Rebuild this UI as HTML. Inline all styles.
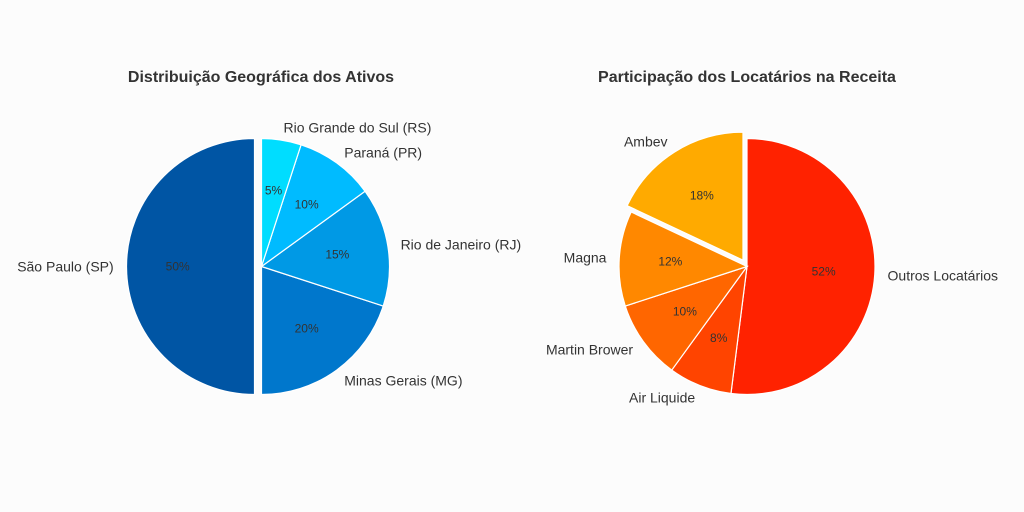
<!DOCTYPE html>
<html><head><meta charset="utf-8"><style>
body{margin:0;background:#fcfcfc;}
svg{display:block;font-family:"Liberation Sans","DejaVu Sans",sans-serif;}
</style></head><body>
<svg id="c" width="1024" height="512" viewBox="0 0 1024 512">
<rect width="1024" height="512" fill="#fcfcfc"/>
<text x="261" y="82" text-anchor="middle" font-size="16" font-weight="bold" fill="#333">Distribuição Geográfica dos Ativos</text>
<text x="747" y="82" text-anchor="middle" font-size="16" font-weight="bold" fill="#333">Participação dos Locatários na Receita</text>
</svg>
<script>
const leftLabels=["São Paulo (SP)","Minas Gerais (MG)","Rio de Janeiro (RJ)","Paraná (PR)","Rio Grande do Sul (RS)"];
const leftValues=[50,20,15,10,5];
const leftColors=["#0055a4","#0077cc","#0099e5","#00bbff","#00ddff"];
const leftExplode=[7,0,0,0,0];
const rightLabels=["Outros Locatários","Air Liquide","Martin Brower","Magna","Ambev"];
const rightValues=[52,8,10,12,18];
const rightColors=["#ff2200","#ff4400","#ff6600","#ff8800","#ffaa00"];
const rightExplode=[0,0,0,0,7.5];
const NS="http://www.w3.org/2000/svg";
const svg=document.getElementById('c');
function mk(t,a){const e=document.createElementNS(NS,t);for(const k in a)e.setAttribute(k,a[k]);svg.appendChild(e);return e;}
function slug(s){return s.toLowerCase().normalize('NFD').replace(/[\u0300-\u036f]/g,'').replace(/[^a-z0-9]+/g,'-').replace(/^-|-$/g,'');}
function pie(cx,cy,r,labels,values,colors,explode,ccw){
  const tot=values.reduce((a,b)=>a+b,0);
  let ang=90;
  values.forEach((v,i)=>{
    const sweep=v/tot*360*(ccw?1:-1);
    const a0=ang,a1=ang+sweep,mid=(a0+a1)/2*Math.PI/180;
    const ox=cx+explode[i]*Math.cos(mid),oy=cy-explode[i]*Math.sin(mid);
    const p=a=>[ox+r*Math.cos(a*Math.PI/180),oy-r*Math.sin(a*Math.PI/180)];
    const [x0,y0]=p(a0),[x1,y1]=p(a1);
    const large=Math.abs(sweep)>180?1:0;
    const s=mk('path',{d:`M${ox},${oy}L${x0},${y0}A${r},${r} 0 ${large} ${ccw?0:1} ${x1},${y1}Z`,fill:colors[i],stroke:'#fff','stroke-width':1.2});
    
    
    const t=mk('text',{x:ox+0.6*r*Math.cos(mid),y:oy-0.6*r*Math.sin(mid)+4,'text-anchor':'middle','font-size':12,fill:'#333'});
    t.textContent=v+'%';
    
    
    const lx=ox+1.1*r*Math.cos(mid),ly=oy-1.1*r*Math.sin(mid);
    const l=mk('text',{x:lx,y:ly+5,'text-anchor':Math.cos(mid)>=0?'start':'end','font-size':14,fill:'#333'});
    l.textContent=labels[i];
    
    
    ang=a1;
  });
}
pie(261.5,266.5,128,leftLabels,leftValues,leftColors,leftExplode,true);
pie(747,266.5,128,rightLabels,rightValues,rightColors,rightExplode,false);
</script>
</body></html>
